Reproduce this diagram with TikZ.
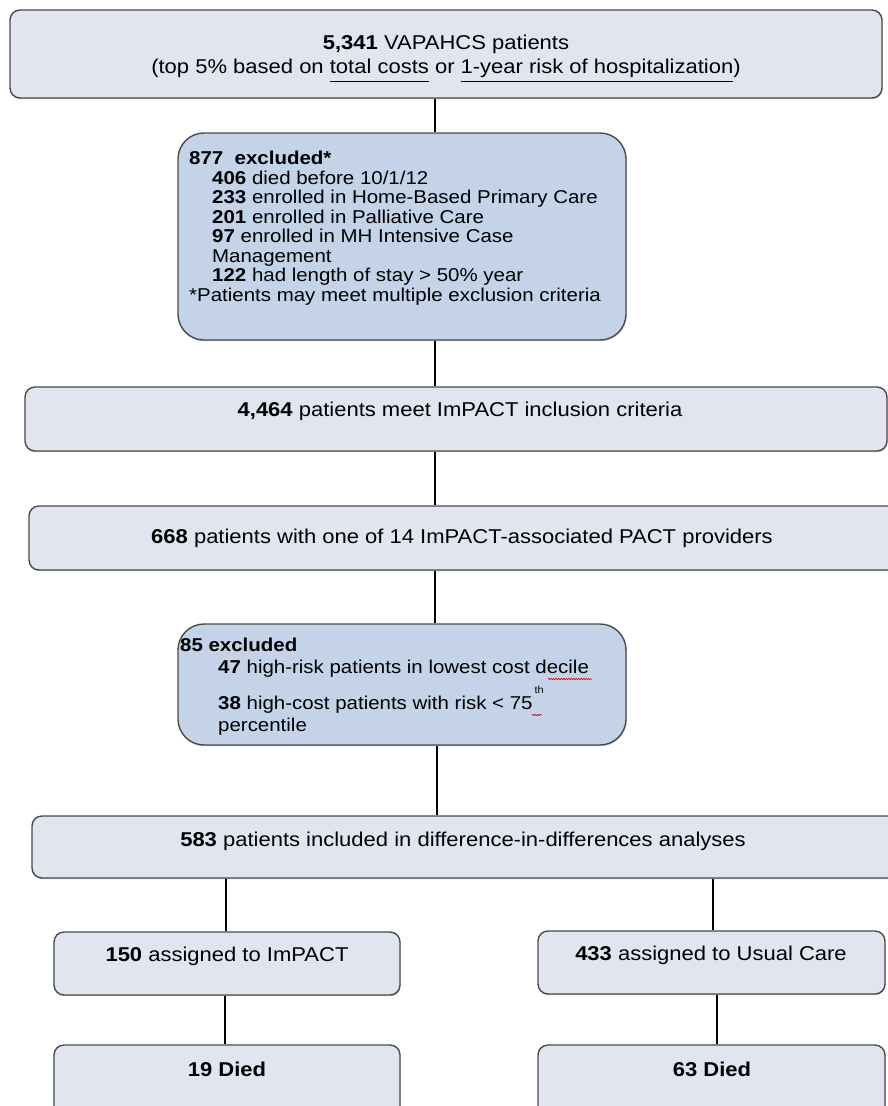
\documentclass[tikz,border=0pt]{standalone}
\usepackage{fontspec}
\setmainfont[FakeStretch=1.1]{Liberation Sans}
\usetikzlibrary{decorations.pathmorphing,shadows}
\definecolor{lightfill}{RGB}{224,229,240}
\definecolor{exfill}{RGB}{196,211,232}
\definecolor{boxline}{RGB}{75,75,75}
\newcommand\lowul[1]{\underline{#1\rule[-6.5pt]{0pt}{0pt}}}
\tikzset{
  boxbase/.style={draw=boxline, line width=1.4pt, inner sep=0pt,
    drop shadow={shadow xshift=0.6pt, shadow yshift=-1.2pt, opacity=0.45}},
  lightbox/.style={boxbase, fill=lightfill, rounded corners=10pt},
  exbox/.style={boxbase, fill=exfill, rounded corners=26pt},
  conn/.style={line width=2.2pt, black},
  bigtxt/.style={font=\fontsize{20}{24}\selectfont, inner sep=0pt, align=center},
  smalltxt/.style={font=\fontsize{18.6}{19.5}\selectfont, inner sep=0pt, align=left},
  squig/.style={red!85!black, line width=0.6pt, decorate,
    decoration={snake, amplitude=0.7pt, segment length=2.5pt}}
}
\begin{document}
\begin{tikzpicture}[x=1pt,y=-1pt]
\fill[white] (0,0) rectangle (888,1106);
\useasboundingbox (0,0) rectangle (888,1106);
\clip (0,0) rectangle (888,1106);

% boxes
\node[lightbox, minimum width=872pt, minimum height=88pt] (top) at (446,54) {};
\node[exbox, minimum width=448pt, minimum height=207pt] (ex1) at (402,236.5) {};
\node[lightbox, minimum width=862pt, minimum height=64pt] (b3) at (456,419) {};
\node[lightbox, minimum width=876pt, minimum height=64pt] (b4) at (467,538) {};
\node[exbox, minimum width=448pt, minimum height=121pt] (ex2) at (402,684.5) {};
\node[lightbox, minimum width=873pt, minimum height=62pt] (b6) at (468.5,847) {};
\node[lightbox, minimum width=346pt, minimum height=63pt] (b7) at (227,963.5) {};
\node[lightbox, minimum width=347pt, minimum height=63pt] (b8) at (711.5,962.5) {};
\node[lightbox, minimum width=346pt, minimum height=80pt] (b9) at (227,1085) {};
\node[lightbox, minimum width=347pt, minimum height=80pt] (b10) at (711.5,1085) {};

% texts
\node[bigtxt, anchor=north] (ttop) at (446,35) {\textbf{5,341} VAPAHCS patients\\(top 5\% based on \lowul{total costs} or \lowul{1-year risk of hospitalization})};
\node[smalltxt, anchor=north west] (tex1) at (189,151) {\textbf{877\ \ excluded*}\\
\hspace*{23pt}\textbf{406} died before 10/1/12\\
\hspace*{23pt}\textbf{233} enrolled in Home-Based Primary Care\\
\hspace*{23pt}\textbf{201} enrolled in Palliative Care\\
\hspace*{23pt}\textbf{97} enrolled in MH Intensive Case\\
\hspace*{23pt}Management\\
\hspace*{23pt}\textbf{122} had length of stay > 50\% year\\
*Patients may meet multiple exclusion criteria};
\node[bigtxt] (t3) at (460,411) {\textbf{4,464} patients meet ImPACT inclusion criteria};
\node[bigtxt] (t4) at (462,538) {\textbf{668} patients with one of 14 ImPACT-associated PACT providers};
\node[smalltxt, anchor=north west] (tex2) at (180,638) {\textbf{85 excluded}\\[2.5pt]
\hspace*{38pt}\textbf{47} high-risk patients in lowest cost decile\\[16.5pt]
\hspace*{38pt}\textbf{38} high-cost patients with risk < 75\makebox[0pt][l]{\hspace{2pt}\smash{\raisebox{16pt}{\fontsize{10}{10}\selectfont th}}}\\[2.5pt]
\hspace*{38pt}percentile};
\node[bigtxt] (t6) at (463,841) {\textbf{583} patients included in difference-in-differences analyses};
\node[bigtxt] (t7) at (227,956) {\textbf{150} assigned to ImPACT};
\node[bigtxt] (t8) at (711,955) {\textbf{433} assigned to Usual Care};
\node[bigtxt] (t9) at (227,1069) {\textbf{19 Died}};
\node[bigtxt] (t10) at (712,1069) {\textbf{63 Died}};

% spell-check squiggles
\draw[squig] (548,679) -- (592,679);
\draw[squig] (532,715) -- (542,715);

% connectors
\coordinate (sp) at (435,0);
\coordinate (sp2) at (437,0);
\coordinate (lx) at (226,0);
\coordinate (rx) at (713,0);
\coordinate (lx2) at (225,0);
\coordinate (rx2) at (717,0);
\draw[conn] (top.south -| sp) -- (ex1.north -| sp);
\draw[conn] (ex1.south -| sp) -- (b3.north -| sp);
\draw[conn] (b3.south -| sp) -- (b4.north -| sp);
\draw[conn] (b4.south -| sp) -- (ex2.north -| sp);
\draw[conn] (ex2.south -| sp2) -- (b6.north -| sp2);
\draw[conn] (b6.south -| lx) -- (b7.north -| lx);
\draw[conn] (b6.south -| rx) -- (b8.north -| rx);
\draw[conn] (b7.south -| lx2) -- (b9.north -| lx2);
\draw[conn] (b8.south -| rx2) -- (b10.north -| rx2);
\end{tikzpicture}
\end{document}
